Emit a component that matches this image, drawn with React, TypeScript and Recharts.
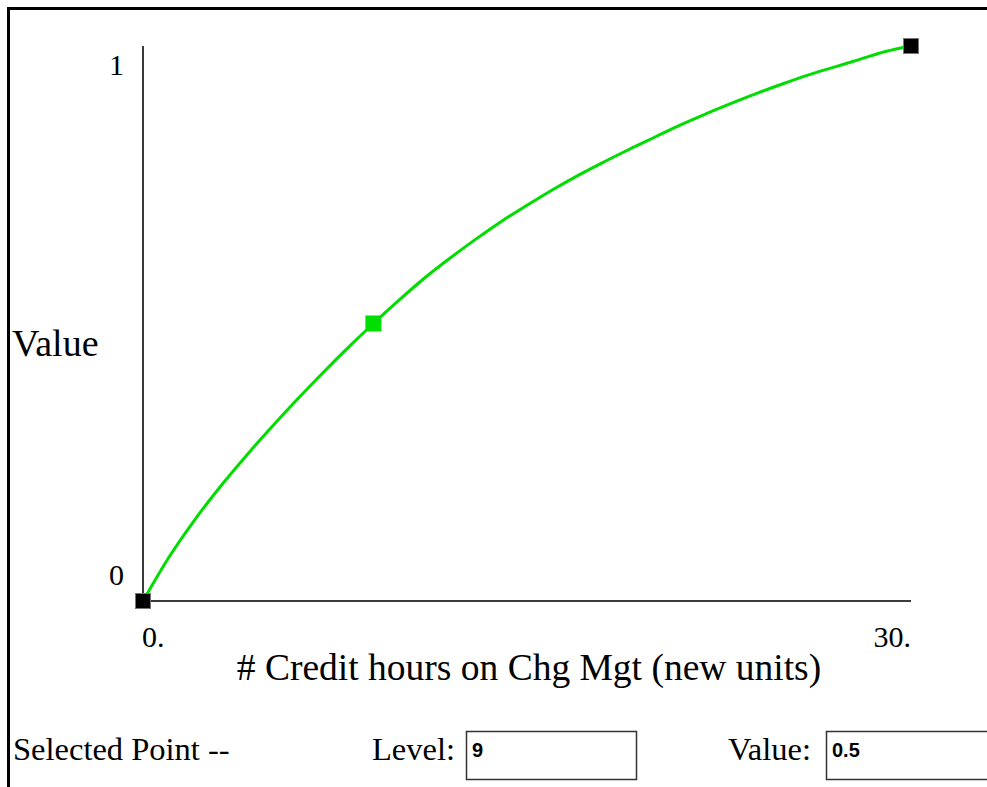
import React from 'react'
import {LineChart, Line, XAxis, YAxis} from 'recharts'

// level (credit hours) vs. value
const levels = [0,1,2,3,4,5,6,7,8,9,10,11,12,13,14,15,16,17,18,19,20,21,22,23,24,25,26,27,28,29,30]
const values = [0,0.078,0.145,0.205,0.26,0.312,0.362,0.41,0.456,0.5,0.542,0.582,0.618,0.652,0.684,0.713,0.741,0.767,0.791,0.814,0.836,0.858,0.878,0.897,0.915,0.932,0.948,0.962,0.976,0.99,1]
const xTicks = [0, 30]
const xTickLabels = ['0.', '30.']
const yTicks = [0, 1]
const yTickLabels = ['0', '1']
const selectedLevel = 9
const selectedValue = 0.5

const data = levels.map((level, i) => ({level, value: values[i]}))

const serif = "'Liberation Serif', 'Times New Roman', serif"
const W = 987
const H = 787

function Dot(props: any){
  const {cx, cy, index, payload} = props
  if (payload.level === selectedLevel) {
    return <rect key={'d'+index} x={cx-8} y={cy-8} width={16} height={16} fill="#00dd00" />
  }
  if (index === 0 || index === data.length - 1) {
    return <rect key={'d'+index} x={cx-7.5} y={cy-7.5} width={15} height={15} fill="#000" stroke="#777" strokeWidth={1} />
  }
  return <g key={'d'+index} />
}

function XTick(props: any){
  const {x, y, payload, index} = props
  const last = index === xTicks.length - 1
  return (
    <text x={last ? x : x - 1} y={y + 46} textAnchor={last ? 'end' : 'start'}
      fontFamily={serif} fontSize={30} fill="#000">{xTickLabels[xTicks.indexOf(payload.value)]}</text>
  )
}

function YTick(props: any){
  const {x, y, payload} = props
  const top = payload.value === 1
  return (
    <text x={x - 19} y={top ? y + 29 : y - 16} textAnchor="end"
      fontFamily={serif} fontSize={30} fill="#000">{yTickLabels[yTicks.indexOf(payload.value)]}</text>
  )
}

export default function App(){
  return (
    <div style={{position:'relative', width:W, height:H, background:'#fff'}}>
      <style>{'body{margin:0;background:#fff}'}</style>
      <div style={{position:'absolute', left:0, top:0}}>
        <LineChart width={W} height={H} data={data} margin={{top:46, right:76, bottom:185, left:142}}>
          <XAxis dataKey="level" type="number" domain={[0,30]} ticks={xTicks} height={1}
            tickLine={false} tickSize={0} tickMargin={0} tick={<XTick />}
            axisLine={{stroke:'#3a3a3a', strokeWidth:2}}
            label={{content: ({viewBox}: any) => (
              <text x={529} y={601 + 79} textAnchor="middle"
                fontFamily={serif} fontSize={37.5} fill="#000"># Credit hours on Chg Mgt (new units)</text>
            )}} />
          <YAxis type="number" domain={[0,1]} ticks={yTicks} width={1}
            tickLine={false} tickSize={0} tickMargin={0} tick={<YTick />}
            axisLine={{stroke:'#3a3a3a', strokeWidth:2}}
            label={{content: ({viewBox}: any) => (
              <text x={12} y={viewBox.y + viewBox.height/2 + 32} textAnchor="start"
                fontFamily={serif} fontSize={38} fill="#000">Value</text>
            )}} />
          <Line type="monotone" dataKey="value" stroke="#00dd00" strokeWidth={3}
            dot={Dot} activeDot={false} isAnimationActive={false} />
        </LineChart>
      </div>
      <svg width={W} height={H} style={{position:'absolute', left:0, top:0, pointerEvents:'none'}}>
        <line x1={7} y1={8.5} x2={W} y2={8.5} stroke="#000" strokeWidth={3} />
        <line x1={8.5} y1={7} x2={8.5} y2={H} stroke="#000" strokeWidth={3} />
        <text x={13} y={760} fontFamily={serif} fontSize={32.5} fill="#000">Selected Point --</text>
        <text x={372} y={760} fontFamily={serif} fontSize={32.5} fill="#000">Level:</text>
        <rect x={466.5} y={731.5} width={170} height={48} fill="#fff" stroke="#333" strokeWidth={1.5} />
        <text x={472} y={757} fontFamily="'Liberation Sans', Arial, sans-serif" fontSize={20} fontWeight="bold" fill="#000">{selectedLevel}</text>
        <text x={728} y={760} fontFamily={serif} fontSize={32.5} fill="#000">Value:</text>
        <rect x={826.5} y={731.5} width={170} height={48} fill="#fff" stroke="#333" strokeWidth={1.5} />
        <text x={832} y={757} fontFamily="'Liberation Sans', Arial, sans-serif" fontSize={20} fontWeight="bold" fill="#000">{selectedValue}</text>
      </svg>
    </div>
  )
}
